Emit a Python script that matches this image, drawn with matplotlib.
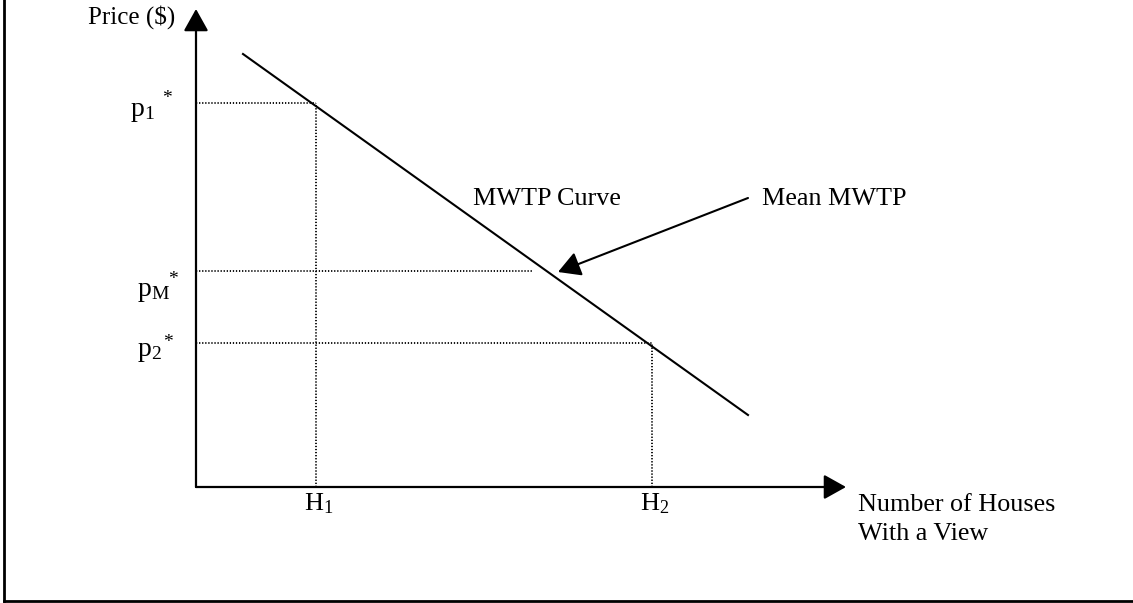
import matplotlib.pyplot as plt
from matplotlib.lines import Line2D

plt.rcParams['font.family'] = ['Liberation Serif', 'DejaVu Serif']
plt.rcParams['mathtext.fontset'] = 'custom'
plt.rcParams['mathtext.rm'] = 'Liberation Serif'
plt.rcParams['mathtext.it'] = 'Liberation Serif:italic'

# Values (origin at the axis corner)
curve_q = [47, 552]        # MWTP curve, quantity ends
curve_p = [433, 72]        # MWTP curve, price ends
h_vals = [120, 456]        # H1, H2
h_labels = [r'$\mathrm{H}_{1}$', r'$\mathrm{H}_{2}$']
h_tops = [384, 144]        # where the vertical guides stop
p_vals = [384, 216, 144]   # p1*, pM*, p2*
p_labels = [r'$\mathrm{p}_{1}$', r'$\mathrm{p}_{\mathrm{M}}$', r'$\mathrm{p}_{2}$']
p_ends = [120, 337, 456]   # where the horizontal guides stop
q_max = 650
p_max = 478
mean_tip = (362, 215)
mean_tail = (552, 289)

# label placement relative to each guide
p_lab_dx = [-66, -59, -59]
p_lab_dy = [-13, -25, -13]
star_dx = [-34, -28, -33]
star_dy = [13, 0, 9]

fig = plt.figure(figsize=(11.33, 6.03), dpi=100)
ax = fig.add_axes([0, 0, 1, 1])
ax.set_xlim(-196, 937)
ax.set_ylim(-116, 487)
ax.axis('off')

# frame around the figure (only left and bottom visible)
fig.add_artist(Line2D([4 / 1133, 4 / 1133], [2 / 603, 1.0], transform=fig.transFigure, color='k', lw=2))
fig.add_artist(Line2D([4 / 1133, 1.0], [2 / 603, 2 / 603], transform=fig.transFigure, color='k', lw=2))

head = '-|>,head_length=0.68,head_width=0.38'
ax.annotate('', xy=(0, p_max), xytext=(0, 0),
            arrowprops=dict(arrowstyle=head, color='k', lw=1.6, mutation_scale=20, shrinkA=0, shrinkB=0))
ax.annotate('', xy=(q_max, 0), xytext=(0, 0),
            arrowprops=dict(arrowstyle=head, color='k', lw=1.6, mutation_scale=20, shrinkA=0, shrinkB=0))

# dotted guides
dots = (0, (0.7, 1.0))
for p, end in zip(p_vals, p_ends):
    ax.plot([0, end], [p, p], color='k', lw=1.3, linestyle=dots)
for h, top in zip(h_vals, h_tops):
    ax.plot([h, h], [0, top], color='k', lw=1.3, linestyle=dots)

# MWTP curve
ax.plot(curve_q, curve_p, color='k', lw=1.5)

fs = 18.8
for i, p in enumerate(p_vals):
    ax.text(p_lab_dx[i], p + p_lab_dy[i], p_labels[i], fontsize=20, ha='left', va='baseline')
    ax.text(star_dx[i], p + star_dy[i], '*', fontsize=14, ha='left', va='top')
for h, lab in zip(h_vals, h_labels):
    ax.text(h - 12, -23, lab, fontsize=fs, ha='left', va='baseline')

ax.text(-21, 463, 'Price ($)', fontsize=18, ha='right', va='baseline')
ax.text(662, -24, 'Number of Houses', fontsize=fs, ha='left', va='baseline')
ax.text(662, -53, 'With a View', fontsize=fs, ha='left', va='baseline')
ax.text(277, 282, 'MWTP Curve', fontsize=fs, ha='left', va='baseline')
ax.text(566, 282, 'Mean MWTP', fontsize=fs, ha='left', va='baseline')

ax.annotate('', xy=mean_tip, xytext=mean_tail,
            arrowprops=dict(arrowstyle=head, color='k', lw=1.5, mutation_scale=20, shrinkA=0, shrinkB=0))

fig.savefig('out.png', dpi=100)
